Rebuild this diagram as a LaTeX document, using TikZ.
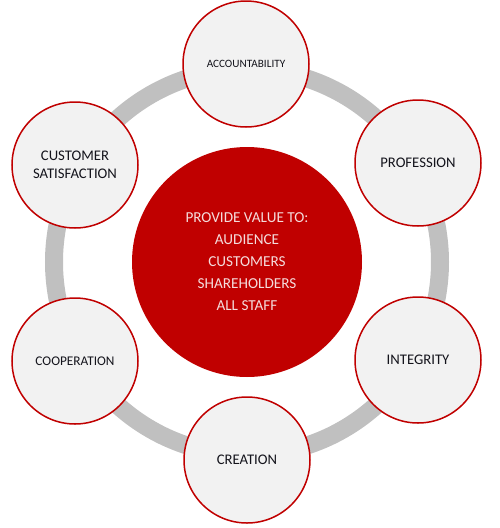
\documentclass[tikz,border=0pt]{standalone}
\usepackage{fontspec}
\setmainfont{Carlito}

\definecolor{valred}{HTML}{C00000}
\definecolor{ringgray}{HTML}{C0C0C0}
\definecolor{petalfill}{HTML}{F2F2F2}
\definecolor{textdark}{HTML}{14141C}
\definecolor{textpink}{HTML}{F4DCDC}

\tikzset{
  petal/.style={circle, draw=valred, line width=1.5pt, fill=petalfill,
    minimum size=126pt, inner sep=0pt, align=center, text=textdark,
    font=\fontsize{14.7}{18}\selectfont},
  hub/.style={circle, fill=valred, minimum size=230pt, inner sep=0pt,
    align=center, text=textpink, font=\fontsize{15.2}{22}\selectfont},
}

\begin{document}
\begin{tikzpicture}[x=1pt,y=-1pt]

\useasboundingbox (0,0) rectangle (500,528);

% Anneau
\draw[ringgray, line width=18pt] (247,262) circle (193);

% Valeurs
\node[petal, font=\fontsize{11.2}{14}\selectfont] (account) at (246,64) {ACCOUNTABILITY};
\node[petal] (profession) at (418,163) {PROFESSION};
\node[petal] (integrity) at (418,360) {INTEGRITY};
\node[petal] (creation) at (247,460) {CREATION};
\node[petal, font=\fontsize{13.3}{16}\selectfont] (coop) at (75,361) {COOPERATION};
\node[petal] (satisf) at (75,165) {CUSTOMER\\SATISFACTION};

% Centre
\node[hub] (value) at (247,262) {PROVIDE VALUE TO:\\AUDIENCE\\CUSTOMERS\\SHAREHOLDERS\\ALL STAFF};

\end{tikzpicture}
\end{document}
